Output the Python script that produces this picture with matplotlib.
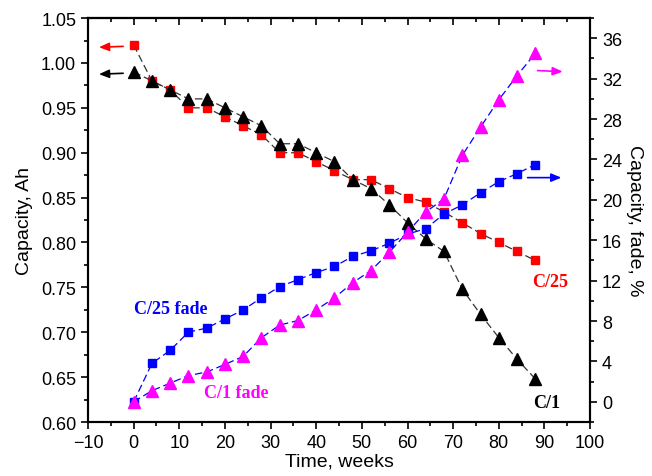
import numpy as np
import matplotlib
matplotlib.use("Agg")
import matplotlib.pyplot as plt
from matplotlib.ticker import MultipleLocator, FormatStrFormatter

weeks = [0, 4, 8, 12, 16, 20, 24, 28, 32, 36, 40, 44, 48, 52, 56, 60, 64, 68, 72, 76, 80, 84, 88]

cap_c25 = [1.02, 0.98, 0.97, 0.95, 0.95, 0.94, 0.93, 0.92, 0.90, 0.90, 0.89, 0.88, 0.87,
           0.87, 0.86, 0.85, 0.845, 0.834, 0.822, 0.81, 0.80, 0.79, 0.78]
cap_c1 = [0.99, 0.98, 0.97, 0.96, 0.96, 0.95, 0.94, 0.93, 0.91, 0.91, 0.90, 0.89, 0.87,
          0.86, 0.842, 0.822, 0.804, 0.79, 0.748, 0.72, 0.694, 0.67, 0.648]
fade_c25 = [0.0, 3.8, 5.1, 6.9, 7.3, 8.2, 9.1, 10.3, 11.4, 12.1, 12.8, 13.4, 14.4,
            14.95, 15.7, 16.6, 17.15, 18.6, 19.5, 20.7, 21.8, 22.6, 23.5]
fade_c1 = [0.0, 1.1, 1.85, 2.6, 2.95, 3.7, 4.5, 6.35, 7.6, 8.05, 9.1, 10.3, 11.8,
           13.0, 14.8, 16.8, 18.8, 20.1, 24.4, 27.2, 29.9, 32.3, 34.5]

plt.rcParams['font.family'] = ['Liberation Sans', 'DejaVu Sans']

fig = plt.figure(figsize=(6.52, 4.77), dpi=100)
ax = fig.add_axes([0.135, 0.1132, 0.77, 0.8468])
ax2 = ax.twinx()

dash = (0, (6, 3))
ax.plot(weeks, cap_c25, color='#333333', lw=0.9, ls=dash, marker='s', ms=6,
        mfc='red', mec='red', zorder=3)
ax.plot(weeks, cap_c1, color='#333333', lw=0.9, ls=dash, marker='^', ms=8,
        mfc='black', mec='black', zorder=3)
ax2.plot(weeks, fade_c25, color='blue', lw=0.9, ls=dash, marker='s', ms=6,
         mfc='blue', mec='blue', zorder=3)
ax2.plot(weeks, fade_c1, color='blue', lw=0.9, ls=dash, marker='^', ms=8,
         mfc='magenta', mec='magenta', zorder=3)

ax.set_xlim(-10, 100)
ax.set_ylim(0.60, 1.05)
ax2.set_ylim(-2, 38)

ax.xaxis.set_major_locator(MultipleLocator(10))
ax.xaxis.set_minor_locator(MultipleLocator(5))
ax.yaxis.set_major_locator(MultipleLocator(0.05))
ax.yaxis.set_minor_locator(MultipleLocator(0.025))
ax2.yaxis.set_major_locator(MultipleLocator(4))
ax2.yaxis.set_minor_locator(MultipleLocator(2))
ax.yaxis.set_major_formatter(FormatStrFormatter('%.2f'))

ax.tick_params(axis='both', which='major', labelsize=13, length=5, width=1.2, direction='out')
ax.tick_params(axis='both', which='minor', length=3, width=1.2, direction='out')
ax2.tick_params(axis='y', which='major', labelsize=13, length=5, width=1.2, direction='out')
ax2.tick_params(axis='y', which='minor', length=3, width=1.2, direction='out')

# top ticks point inward, no labels
sec = ax.secondary_xaxis('top')
sec.xaxis.set_major_locator(MultipleLocator(10))
sec.xaxis.set_minor_locator(MultipleLocator(5))
sec.tick_params(which='major', direction='in', length=5, width=1.2, labeltop=False)
sec.tick_params(which='minor', direction='in', length=3, width=1.2)
sec.spines['top'].set_linewidth(1.5)

for a in (ax, ax2):
    for s in a.spines.values():
        s.set_linewidth(1.5)

ax.set_xlabel('Time, weeks', fontsize=14, labelpad=1)
ax.set_ylabel('Capacity, Ah', fontsize=14, labelpad=6)
ax2.set_ylabel('Capacity, fade, %', fontsize=14, rotation=270, labelpad=15)

# arrows pointing to the axis each series belongs to
arrow = dict(arrowstyle='-|>,head_length=0.6,head_width=0.25', lw=1.2,
             shrinkA=0, shrinkB=0)
ax.annotate('', xy=(-7.6, 1.0175), xytext=(-2.3, 1.0185),
            arrowprops=dict(arrow, color='red'))
ax.annotate('', xy=(-7.6, 0.9875), xytext=(-2.3, 0.9885),
            arrowprops=dict(arrow, color='black'))
ax2.annotate('', xy=(94.0, 32.7), xytext=(88.5, 32.8),
             arrowprops=dict(arrow, color='magenta'))
ax2.annotate('', xy=(93.7, 22.2), xytext=(86.3, 22.2),
             arrowprops=dict(arrow, color='blue'))

serif = ['Liberation Serif', 'DejaVu Serif']
ax.text(0.0, 0.726, 'C/25 fade', color='blue', fontsize=13, fontweight='bold',
        family=serif, va='center')
ax.text(15.4, 0.633, 'C/1 fade', color='magenta', fontsize=13, fontweight='bold',
        family=serif, va='center')
ax.text(87.2, 0.757, 'C/25', color='red', fontsize=13, fontweight='bold',
        family=serif, va='center')
ax.text(87.6, 0.622, 'C/1', color='black', fontsize=13, fontweight='bold',
        family=serif, va='center')

fig.savefig('out.png', dpi=100)
